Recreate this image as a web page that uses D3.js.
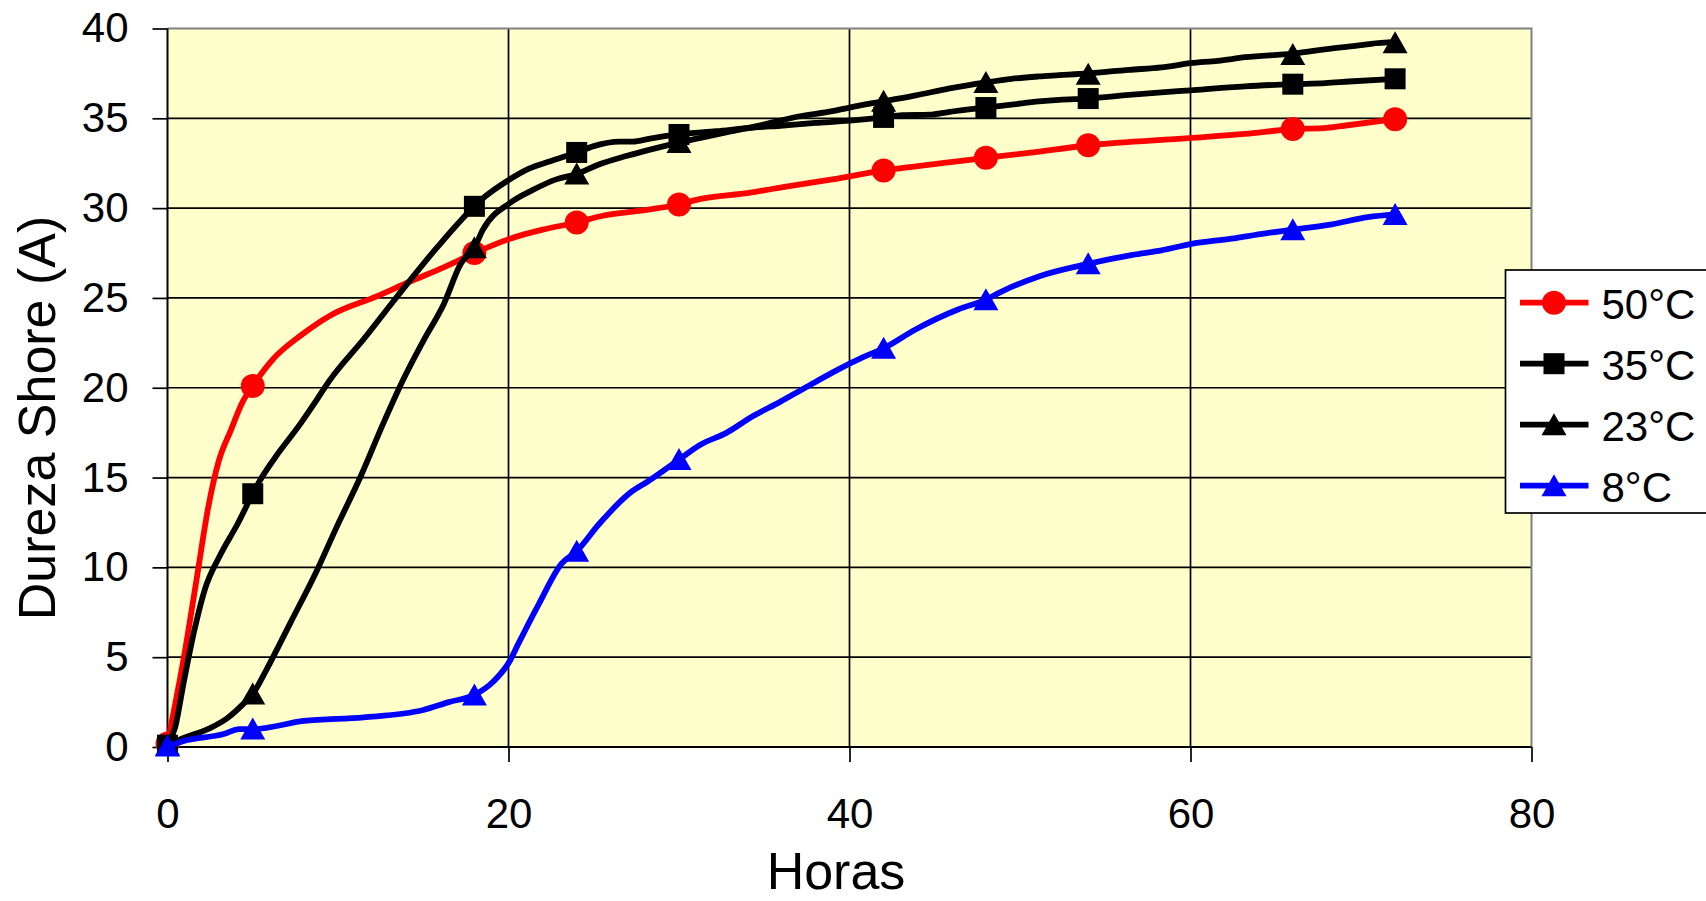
<!DOCTYPE html>
<html>
<head>
<meta charset="utf-8">
<script src="https://cdn.jsdelivr.net/npm/d3@7"></script>
<style>
  body { margin: 0; background: #fff; }
  text { font-family: "Liberation Sans", Arial, sans-serif; fill: #000; }
</style>
</head>
<body>
<div id="chart"></div>
<script>
// values
const xTicks = [0, 20, 40, 60, 80];
const yTicks = [0, 5, 10, 15, 20, 25, 30, 35, 40];

const names = ["50°C", "35°C", "23°C", "8°C"];
const colors = ["#ff0000", "#000000", "#000000", "#0000ff"];
const shapes = ["circle", "square", "triangle", "triangle"];

// [horas, dureza] points along each curve
const line50 = [[0,0.2],[1,5.2],[1.7,9.3],[2.4,13.4],[3,15.9],[3.7,17.6],[4.4,19.2],[5,20.1],[6.2,21.6],[7.8,22.9],[9.5,24.0],[12.3,25.1],[14.2,25.9],[16.2,26.7],[18,27.5],[20.1,28.3],[22,28.8],[24,29.2],[25.4,29.55],[28.1,29.9],[30,30.2],[31.2,30.5],[34.1,30.85],[36.1,31.17],[39,31.6],[42,32.1],[43.9,32.33],[45.8,32.55],[48,32.8],[50.5,33.07],[54,33.5],[59.9,33.9],[63.2,34.13],[66,34.4],[67.8,34.45],[69.1,34.6],[72,34.95]];
const line35 = [[0,0.1],[0.45,1.1],[0.95,3.6],[1.6,6.6],[2.2,8.8],[3.1,10.7],[4.1,12.4],[5,14.1],[5.4,14.8],[6.3,16.1],[7.8,18.0],[8.8,19.4],[9.5,20.4],[11.5,22.7],[13.4,25.0],[15.8,27.8],[18,30.1],[18.7,30.7],[19.9,31.5],[21.2,32.2],[22.4,32.6],[24,33.1],[25,33.45],[26.5,33.7],[27.3,33.7],[28.3,33.87],[30,34.1],[32.2,34.28],[34.1,34.46],[36.1,34.6],[38,34.74],[40,34.87],[42,35.05],[43.1,35.17],[44.7,35.2],[45.8,35.35],[48,35.6],[49.5,35.76],[51.1,35.94],[52.3,36.03],[54,36.1],[56.4,36.3],[60,36.56],[63.2,36.78],[66,36.9],[67.9,36.96],[69.3,37.05],[72,37.2]];
const line23 = [[0,0.1],[0.95,0.5],[2.5,1.05],[3.5,1.6],[4.45,2.4],[5,2.95],[5.8,4.3],[7.2,6.9],[8.75,9.8],[9.9,12.2],[11.3,15.0],[12.65,18.0],[13.8,20.4],[15,22.6],[16.2,24.65],[17.2,26.9],[18,27.8],[18.5,28.8],[20.1,30.3],[21.4,31.0],[22.8,31.6],[24,31.9],[25.3,32.43],[26.9,32.9],[28.3,33.26],[30,33.65],[31.2,33.9],[33.1,34.28],[35.1,34.68],[37,35.1],[39,35.4],[40,35.6],[42,35.95],[43.9,36.28],[45.8,36.65],[48,37.0],[49.5,37.2],[51.1,37.33],[52.3,37.4],[54,37.5],[56.4,37.7],[58.3,37.83],[60,38.07],[61.6,38.2],[63.2,38.4],[66,38.6],[68.7,38.94],[69.4,39.0],[70.6,39.15],[72,39.25]];
const line8 = [[0,0],[0.95,0.33],[3.3,0.72],[4.2,1.0],[5,1.0],[8,1.45],[11.5,1.65],[15,2.06],[16.5,2.5],[18,2.9],[19.1,3.63],[20.1,4.83],[20.5,5.6],[21.8,8.0],[23.1,10.2],[24,10.9],[25.3,12.4],[27.2,14.2],[28.1,14.74],[30,16.0],[31.2,16.8],[32.8,17.5],[34.3,18.4],[35.9,19.2],[37.4,20.0],[39.1,20.9],[40.8,21.7],[42,22.2],[43.9,23.26],[46.4,24.37],[48,24.9],[48.8,25.3],[51.1,26.2],[54,26.9],[56.6,27.4],[58.3,27.65],[60,28.0],[62.4,28.3],[64.4,28.6],[66,28.8],[68.3,29.1],[70.4,29.5],[72,29.65]];

// measured points (marker positions)
const marks50 = [[0,0.2],[5,20.1],[18,27.5],[24,29.2],[30,30.2],[42,32.1],[48,32.8],[54,33.5],[66,34.4],[72,34.95]];
const marks35 = [[0,0.1],[5,14.1],[18,30.1],[24,33.1],[30,34.1],[42,35.05],[48,35.6],[54,36.1],[66,36.9],[72,37.2]];
const marks23 = [[0,0.1],[5,2.95],[18,27.8],[24,31.9],[30,33.65],[42,35.95],[48,37.0],[54,37.45],[66,38.55],[72,39.2]];
const marks8 = [[0,0.05],[5,1.0],[18,2.9],[24,10.9],[30,16.0],[42,22.2],[48,24.9],[54,26.9],[66,28.8],[72,29.65]];

const lines = [line50, line35, line23, line8];
const marks = [marks50, marks35, marks23, marks8];

const config = {
  width: 1706,
  height: 901,
  margin: {top: 28.5, left: 167.5, right: 174.5, bottom: 154}
};
const width = config.width - config.margin.left - config.margin.right;
const height = config.height - config.margin.top - config.margin.bottom;

const svg = d3.select("#chart").append("svg")
  .attr("width", config.width)
  .attr("height", config.height);

const g = svg.append("g")
  .attr("transform", `translate(${config.margin.left},${config.margin.top})`);

const xScale = d3.scaleLinear().domain([0, 80]).range([0, width]);
const yScale = d3.scaleLinear().domain([0, 40]).range([height, 0]);

// plot background
g.append("rect")
  .attr("width", width)
  .attr("height", height)
  .attr("fill", "#ffffcc");

// grid lines
g.selectAll(".hgrid")
  .data(yTicks.filter(d => d > 0 && d < 40))
  .join("line")
  .attr("x1", 0).attr("x2", width)
  .attr("y1", d => yScale(d)).attr("y2", d => yScale(d))
  .attr("stroke", "#000").attr("stroke-width", 1.7);

g.selectAll(".vgrid")
  .data(xTicks.filter(d => d > 0 && d < 80))
  .join("line")
  .attr("x1", d => xScale(d)).attr("x2", d => xScale(d))
  .attr("y1", 0).attr("y2", height)
  .attr("stroke", "#000").attr("stroke-width", 1.7);

// grey top and right border
g.append("path")
  .attr("d", `M0,0H${width}V${height}`)
  .attr("fill", "none")
  .attr("stroke", "#808080")
  .attr("stroke-width", 2);

// axes
const yAxis = d3.axisLeft(yScale).tickValues(yTicks).tickSize(15).tickSizeOuter(0).tickPadding(24);
const xAxis = d3.axisBottom(xScale).tickValues(xTicks).tickSize(15).tickSizeOuter(0).tickPadding(36);

const gy = g.append("g").call(yAxis);
const gx = g.append("g").attr("transform", `translate(0,${height})`).call(xAxis);

[gx, gy].forEach(a => {
  a.select(".domain").remove();
  a.selectAll(".tick line").attr("stroke", "#000").attr("stroke-width", 1.7);
  a.selectAll(".tick text")
    .style("font-family", '"Liberation Sans", Arial, sans-serif')
    .style("font-size", "42px")
    .attr("fill", "#000");
});

g.append("line")
  .attr("x1", 0).attr("x2", 0).attr("y1", 0).attr("y2", height)
  .attr("stroke", "#000").attr("stroke-width", 2);
g.append("line")
  .attr("x1", 0).attr("x2", width).attr("y1", height).attr("y2", height)
  .attr("stroke", "#000").attr("stroke-width", 2.2);

// marker drawing helper
function drawMarker(sel, shape, color) {
  if (shape === "circle") {
    sel.append("circle").attr("r", 12).attr("fill", color);
  } else if (shape === "square") {
    sel.append("rect").attr("x", -10.5).attr("y", -10.5)
      .attr("width", 21).attr("height", 21).attr("fill", color);
  } else {
    sel.append("path").attr("d", "M0,-11.5L12.5,10.5L-12.5,10.5Z").attr("fill", color);
  }
}

const lineGen = d3.line()
  .x(d => xScale(d[0]))
  .y(d => yScale(d[1]))
  .curve(d3.curveMonotoneX);

lines.forEach((pts, i) => {
  g.append("path")
    .datum(pts)
    .attr("d", lineGen)
    .attr("fill", "none")
    .attr("stroke", colors[i])
    .attr("stroke-width", 5.8)
    .attr("stroke-linejoin", "round");

  g.selectAll(".m" + i)
    .data(marks[i])
    .join("g")
    .attr("class", "m" + i)
    .attr("transform", d => `translate(${xScale(d[0])},${yScale(d[1])})`)
    .each(function() { drawMarker(d3.select(this), shapes[i], colors[i]); });
});

// axis titles
svg.append("text")
  .attr("transform", "translate(55,418) rotate(-90)")
  .attr("text-anchor", "middle")
  .style("font-size", "52px")
  .text("Dureza Shore (A)");

svg.append("text")
  .attr("x", 836)
  .attr("y", 889)
  .attr("text-anchor", "middle")
  .style("font-size", "52px")
  .text("Horas");

// legend
const legend = svg.append("g").attr("transform", "translate(1505.5,270)");
legend.append("rect")
  .attr("width", 230)
  .attr("height", 243)
  .attr("fill", "#fff")
  .attr("stroke", "#000")
  .attr("stroke-width", 1.7);

names.forEach((name, i) => {
  const row = legend.append("g").attr("transform", `translate(0,${32.7 + i * 61})`);
  row.append("line")
    .attr("x1", 14.5).attr("x2", 83)
    .attr("stroke", colors[i]).attr("stroke-width", 5.8);
  drawMarker(row.append("g").attr("transform", "translate(48.5,0)"), shapes[i], colors[i]);
  row.append("text")
    .attr("x", 96)
    .attr("y", 16)
    .style("font-size", "42px")
    .text(name);
});
</script>
</body>
</html>
